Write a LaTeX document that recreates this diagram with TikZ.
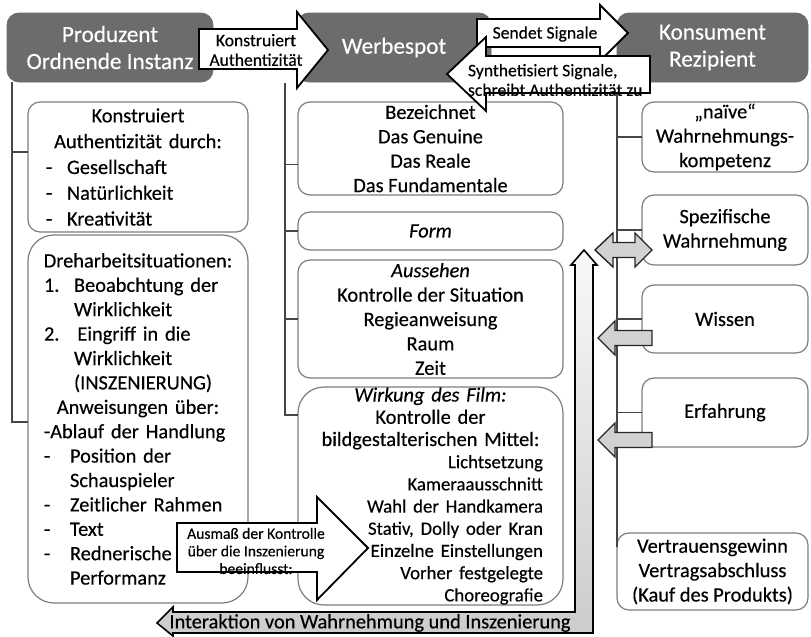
\documentclass[tikz,border=0pt]{standalone}
\usepackage{fontspec}
\setmainfont[FakeBold=0.35]{Carlito}
\usetikzlibrary{calc, positioning}

\definecolor{headgray}{RGB}{108,108,108}
\definecolor{boxgray}{RGB}{125,125,125}
\definecolor{spinegray}{RGB}{70,70,70}

\newcommand{\hdrfont}{\fontsize{11.6}{13.5}\selectfont}
\newcommand{\boxfont}{\fontsize{10.2}{12.2}\selectfont}
\newcommand{\arrfont}{\fontsize{8.8}{9.8}\selectfont}
\newcommand{\tinyarrfont}{\fontsize{7.8}{8.8}\selectfont}

\begin{document}
\begin{tikzpicture}[
    x=0.5pt, y=-0.5pt,
    every node/.style={inner sep=0pt, outer sep=0pt},
    header/.style={
            draw=headgray,
            fill=headgray,
            rounded corners=6pt,
            text=white,
            font=\hdrfont,
            align=center,
            minimum height=34.5pt
        },
    subbox/.style={
            draw=boxgray,
            fill=white,
            line width=0.6pt,
            rounded corners=6pt,
            font=\boxfont,
            align=center
        },
    bigbox/.style={subbox, rounded corners=13pt},
    spine/.style={draw=spinegray, line width=0.8pt},
    white_arrow/.style={draw=black, fill=white, line width=0.9pt},
    grey_arrow/.style={draw=black!85, fill=gray!35, line width=0.7pt},
    arrow_text/.style={font=\arrfont, align=center},
    ]
    \useasboundingbox (0,0) rectangle (811,637);

    % --- Headers ---
    \node[header, minimum width=103pt] (prod) at (110,47.5) {Produzent\\Ordnende Instanz};
    \node[header, minimum width=97pt] (werb) at (394,47.5) {Werbespot};
    \node[header, minimum width=95.5pt] (kons) at (712.5,47.5) {Konsument\\Rezipient};

    % --- Produzent ---
    \node[subbox, minimum width=110pt, minimum height=65pt, text width=92pt, align=left,
        font={\fontsize{10.2}{12.9}\selectfont}] (durch) at (138,167) {%
        \makebox[\linewidth]{Konstruiert}\\
        \makebox[\linewidth]{Authentizität durch:}\\
        \makebox[10.5pt][l]{-}Gesellschaft\\
        \makebox[10.5pt][l]{-}Natürlichkeit\\
        \makebox[10.5pt][l]{-}Kreativität};
    \node[bigbox, minimum width=110pt, minimum height=184pt, text width=94pt, align=left] (dreh) at (138,419) {%
        \makebox[\linewidth]{Dreharbeitsituationen:}\\
        \makebox[15pt][l]{1.}Beoabchtung der\\
        \hspace*{15pt}Wirklichkeit\\
        \makebox[15pt][l]{2.}\,Eingriff in die\\
        \hspace*{15pt}Wirklichkeit\\
        \hspace*{15pt}(INSZENIERUNG)\\
        \makebox[\linewidth]{Anweisungen über:}\\
        -Ablauf der Handlung\\
        \makebox[13pt][l]{-}Position der\\
        \hspace*{13pt}Schauspieler\\
        \makebox[13pt][l]{-}Zeitlicher Rahmen\\
        \makebox[13pt][l]{-}Text\\
        \makebox[13pt][l]{-}Rednerische\\
        \hspace*{13pt}Performanz};

    % --- Werbespot ---
    \node[subbox, minimum width=132.5pt, minimum height=46.5pt] (bez) at (430.5,148.5)
        {Bezeichnet\\Das Genuine\\Das Reale\\Das Fundamentale};
    \node[subbox, minimum width=132.5pt, minimum height=19pt] (form) at (430.5,231) {\textit{Form}};
    \node[subbox, minimum width=132.5pt, minimum height=59pt] (aus) at (430.5,319)
        {\textit{Aussehen}\\Kontrolle der Situation\\Regieanweisung\\Raum\\Zeit};
    \node[bigbox, minimum width=132.5pt, minimum height=109pt, text width=112.5pt, align=right,
        font={\fontsize{10.2}{11.1}\selectfont}] (wirk) at (430.5,496) {%
        \makebox[\linewidth]{\textit{Wirkung des Film:}}\\
        \makebox[\linewidth]{Kontrolle der}\\
        \makebox[\linewidth]{bildgestalterischen Mittel:}\\
        \fontsize{9.4}{11.1}\selectfont
        Lichtsetzung\\
        Kameraausschnitt\\
        Wahl der Handkamera\\
        Stativ, Dolly oder Kran\\
        Einzelne Einstellungen\\
        Vorher festgelegte\\
        Choreografie};

    % --- Konsument ---
    \node[subbox, minimum width=83pt, minimum height=35pt] (naiv) at (725,137) {„naïve“\\Wahrnehmungs-\\kompetenz};
    \node[subbox, minimum width=83pt, minimum height=35pt] (spez) at (725,230) {Spezifische\\Wahrnehmung};
    \node[subbox, minimum width=83pt, minimum height=34pt] (wissen) at (725,319) {Wissen};
    \node[subbox, minimum width=83pt, minimum height=34.5pt] (erf) at (725,412.5) {Erfahrung};
    \node[subbox, minimum width=95.5pt, minimum height=38.5pt] (vertrauen) at (712.5,571.5)
        {Vertrauensgewinn\\Vertragsabschluss\\(Kauf des Produkts)};

    % --- Spines ---
    \coordinate (prod_spine) at (12,82);
    \draw[spine] (prod_spine) |- ($(durch.west)+(0,-15)$);
    \draw[spine] (prod_spine) |- ($(dreh.west)+(0,3)$);

    \coordinate (werb_spine) at (285,83);
    \draw[spine] (werb_spine) |- ($(bez.west)+(0,16)$);
    \draw[spine] (werb_spine) |- (form.west);
    \draw[spine] (werb_spine) |- (aus.west);
    \draw[spine] (werb_spine) |- ($(wirk.north west)+(0,28)$);

    \coordinate (kons_spine) at (617,82);
    \draw[spine] (kons_spine) |- (naiv.west);
    \draw[spine] (kons_spine) |- (spez.west);
    \draw[spine] (kons_spine) |- (wissen.west);
    \draw[spine] (kons_spine) |- (erf.west);
    \draw[spine] (kons_spine) -- ($(vertrauen.north west)+(0,14)$);

    % --- Block arrows ---
    \draw[white_arrow] (199,29) -- (297,29) -- (297,12) -- (328,50) -- (297,88) -- (297,69) -- (199,69) -- cycle;
    \node[arrow_text] (konstr_lbl) at (256,50) {Konstruiert\\Authentizität};

    \draw[white_arrow] (477,19) -- (600,19) -- (600,5) -- (628,33) -- (600,61) -- (600,47) -- (477,47) -- cycle;
    \node[arrow_text] (sendet_lbl) at (545,34) {Sendet Signale};

    \draw[white_arrow] (650,56) -- (486,56) -- (486,37) -- (447,74) -- (486,111) -- (486,93) -- (650,93) -- cycle;
    \node[arrow_text, align=left, anchor=west] (synth_lbl) at (468,80) {Synthetisiert Signale,\\schreibt Authentizität zu};

    \draw[white_arrow] (177,523) -- (317,523) -- (317,497) -- (368,548) -- (317,600) -- (317,572) -- (177,572) -- cycle;
    \node[font=\tinyarrfont, align=center] (ausmass_lbl) at (256,551) {Ausmaß der Kontrolle\\über die Inszenierung\\beeinflusst:};

    \draw[draw=black, line width=0.8pt, top color=gray!5, bottom color=gray!40]
        (157,623) -- (173,607) -- (173,612) -- (575,612) -- (575,265) -- (571,265) -- (584,250)
        -- (597,265) -- (593,265) -- (593,633) -- (173,633) -- (173,636) -- cycle;
    \node[font=\boxfont] (interakt_lbl) at (370,623) {Interaktion von Wahrnehmung und Inszenierung};

    % --- Grey arrows ---
    \draw[grey_arrow] (595,250) -- (613,233) -- (613,242.5) -- (635,242.5) -- (635,233) -- (652,250)
        -- (635,267) -- (635,257.5) -- (613,257.5) -- (613,267) -- cycle;
    \draw[grey_arrow] (598,338) -- (615,321) -- (615,330.5) -- (652,330.5) -- (652,345.5) -- (615,345.5) -- (615,355) -- cycle;
    \draw[grey_arrow] (598,440) -- (615,423) -- (615,432.5) -- (652,432.5) -- (652,447.5) -- (615,447.5) -- (615,457) -- cycle;

\end{tikzpicture}
\end{document}
